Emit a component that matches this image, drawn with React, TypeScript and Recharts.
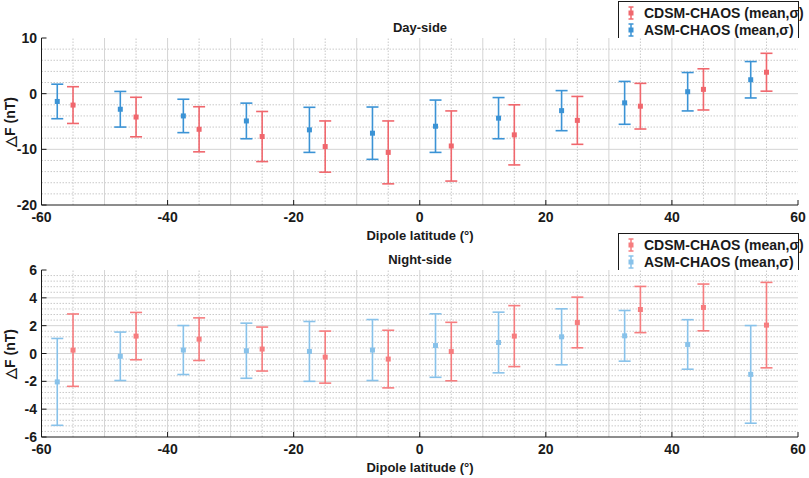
import React from 'react';
import { ScatterChart, Scatter, XAxis, YAxis, ErrorBar, ReferenceLine } from 'recharts';

// dipole latitude bin centres
const asmLat = [-57.5, -47.5, -37.5, -27.5, -17.5, -7.5, 2.5, 12.5, 22.5, 32.5, 42.5, 52.5];
const cdsmLat = [-55, -45, -35, -25, -15, -5, 5, 15, 25, 35, 45, 55];

// day-side mean / sigma (nT)
const dayAsmMean = [-1.4, -2.8, -4.0, -4.9, -6.5, -7.1, -5.85, -4.4, -3.05, -1.65, 0.35, 2.5];
const dayAsmStd = [3.1, 3.2, 3.0, 3.2, 4.05, 4.7, 4.7, 3.7, 3.6, 3.85, 3.45, 3.27];
const dayCdsmMean = [-2.05, -4.2, -6.4, -7.7, -9.5, -10.55, -9.4, -7.4, -4.8, -2.25, 0.77, 3.85];
const dayCdsmStd = [3.3, 3.55, 4.05, 4.5, 4.6, 5.65, 6.3, 5.4, 4.3, 4.1, 3.7, 3.4];

// night-side mean / sigma (nT)
const nightAsmMean = [-2.04, -0.2, 0.25, 0.2, 0.15, 0.25, 0.57, 0.79, 1.2, 1.27, 0.65, -1.5];
const nightAsmStd = [3.12, 1.74, 1.76, 1.98, 2.15, 2.19, 2.28, 2.18, 2.01, 1.82, 1.78, 3.51];
const nightCdsmMean = [0.24, 1.25, 1.03, 0.32, -0.26, -0.4, 0.14, 1.25, 2.23, 3.16, 3.31, 2.04];
const nightCdsmStd = [2.6, 1.7, 1.53, 1.58, 1.87, 2.07, 2.1, 2.19, 1.82, 1.66, 1.68, 3.07];

// ticks and grid
const xTicks = [-60, -40, -20, 0, 20, 40, 60];
const xGridMajor = [-50, -40, -30, -20, -10, 0, 10, 20, 30, 40, 50];
const xGridMinor = [-55, -45, -35, -25, -15, -5, 5, 15, 25, 35, 45, 55];
const dayYTicks = [-20, -10, 0, 10];
const dayYGrid = [-18, -16, -14, -12, -10, -8, -6, -4, -2, 0, 2, 4, 6, 8];
const nightYTicks = [-6, -4, -2, 0, 2, 4, 6];
const nightYGrid = [
  -5.6, -5.2, -4.8, -4.4, -4, -3.6, -3.2, -2.8, -2.4, -2, -1.6, -1.2, -0.8, -0.4, 0,
  0.4, 0.8, 1.2, 1.6, 2, 2.4, 2.8, 3.2, 3.6, 4, 4.4, 4.8, 5.2, 5.6,
];

const FONT = '"Liberation Sans", Arial, sans-serif';
const INK = '#1a1a1a';

const zip = (lat: number[], mean: number[], sd: number[]) =>
  lat.map((x, i) => ({ lat: x, mean: mean[i], sd: sd[i] }));

const square = (color: string) => (p: any) => (
  <rect x={p.cx - 2.5} y={p.cy - 2.5} width={5} height={5} fill={color} />
);

// tick labels drawn from the axis' own tick positions
const XTick = (p: any) => (
  <text x={p.x} y={p.y + 22} textAnchor="middle" fontFamily={FONT} fontSize={14}
    fontWeight={700} fill={INK}>{p.payload.value}</text>
);
const YTick = (p: any) => (
  <text x={p.x + 0.5} y={p.y + 5} textAnchor="end" fontFamily={FONT} fontSize={14}
    fontWeight={700} fill={INK}>{p.payload.value}</text>
);

function LegendIcon({ color }: { color: string }) {
  return (
    <svg width={10} height={14} style={{ display: 'block' }}>
      <line x1={5} y1={1} x2={5} y2={13} stroke={color} strokeWidth={1.5} />
      <line x1={2.5} y1={1} x2={7.5} y2={1} stroke={color} strokeWidth={1.5} />
      <line x1={2.5} y1={13} x2={7.5} y2={13} stroke={color} strokeWidth={1.5} />
      <rect x={2.5} y={4.5} width={5} height={5} fill={color} />
    </svg>
  );
}

type PanelProps = {
  top: number;
  title: string;
  yDomain: [number, number];
  yTicks: number[];
  yGrid: number[];
  yMajor: number[];
  asm: { lat: number; mean: number; sd: number }[];
  cdsm: { lat: number; mean: number; sd: number }[];
  asmColor: string;
  cdsmColor: string;
};

function Panel(p: PanelProps) {
  const W = 809;
  const H = 246;
  return (
    <div style={{ position: 'absolute', left: 0, top: p.top, width: W, height: H }}>
      <ScatterChart width={W} height={H} margin={{ top: 38, right: 11, bottom: 11, left: 0 }}>
        <XAxis
          dataKey="lat" type="number" domain={[-60, 60]} ticks={xTicks}
          allowDataOverflow height={30} tickSize={-5} tickMargin={0}
          axisLine={{ stroke: INK }} tickLine={{ stroke: INK }} tick={<XTick />}
        />
        <XAxis
          xAxisId="t" orientation="top" type="number" domain={[-60, 60]} ticks={xTicks}
          height={0} tickSize={-5} tick={false}
          axisLine={{ stroke: INK }} tickLine={{ stroke: INK }}
        />
        <YAxis
          dataKey="mean" type="number" domain={p.yDomain} ticks={p.yTicks}
          allowDataOverflow width={41.5} tickSize={-5} tickMargin={10}
          axisLine={{ stroke: INK }} tickLine={{ stroke: INK }} tick={<YTick />}
        />
        <YAxis
          yAxisId="r" orientation="right" type="number" domain={p.yDomain} ticks={p.yTicks}
          width={0} tickSize={-5} tick={false}
          axisLine={{ stroke: INK }} tickLine={{ stroke: INK }}
        />
        {p.yGrid.map(v => (
          <ReferenceLine key={'h' + v} y={v}
            stroke={p.yMajor.includes(v) ? '#d4d4d4' : '#c9c9c9'}
            strokeDasharray={p.yMajor.includes(v) ? undefined : '1.5 1.5'} strokeWidth={1} />
        ))}
        {xGridMajor.map(v => (
          <ReferenceLine key={'vM' + v} x={v} stroke="#d4d4d4" strokeWidth={1} />
        ))}
        {xGridMinor.map(v => (
          <ReferenceLine key={'vm' + v} x={v} stroke="#c9c9c9" strokeDasharray="1.5 1.5" strokeWidth={1} />
        ))}
        <Scatter name="ASM-CHAOS" data={p.asm} fill={p.asmColor} shape={square(p.asmColor)} isAnimationActive={false}>
          <ErrorBar dataKey="sd" direction="y" width={6} stroke={p.asmColor} strokeWidth={1.6} isAnimationActive={false} />
        </Scatter>
        <Scatter name="CDSM-CHAOS" data={p.cdsm} fill={p.cdsmColor} shape={square(p.cdsmColor)} isAnimationActive={false}>
          <ErrorBar dataKey="sd" direction="y" width={6} stroke={p.cdsmColor} strokeWidth={1.6} isAnimationActive={false} />
        </Scatter>
      </ScatterChart>

      <div style={{ position: 'absolute', left: 370, width: 100, top: 20, textAlign: 'center',
        font: `700 13px ${FONT}`, color: INK }}>{p.title}</div>

      <div style={{ position: 'absolute', left: 335, width: 170, top: 228, textAlign: 'center',
        font: `700 13px ${FONT}`, color: INK }}>Dipole latitude (°)</div>

      <div style={{ position: 'absolute', left: 10, top: 122, width: 0, height: 0 }}>
        <div style={{ position: 'absolute', transform: 'translate(-50%, -50%) rotate(-90deg)',
          whiteSpace: 'nowrap', font: `700 14px ${FONT}`, color: INK }}>△F (nT)</div>
      </div>

      <div style={{ position: 'absolute', left: 618, top: 1, width: 179, height: 36,
        border: `1px solid ${INK}`, borderBottom: 'none', background: '#fff',
        font: `700 14px ${FONT}`, color: INK, whiteSpace: 'nowrap' }}>
        <div style={{ position: 'absolute', left: 7, top: 3, display: 'flex', alignItems: 'center', gap: 8 }}>
          <LegendIcon color={p.cdsmColor} /><span>CDSM-CHAOS (mean,σ)</span>
        </div>
        <div style={{ position: 'absolute', left: 7, top: 20, display: 'flex', alignItems: 'center', gap: 8 }}>
          <LegendIcon color={p.asmColor} /><span>ASM-CHAOS (mean,σ)</span>
        </div>
      </div>
    </div>
  );
}

export default function App() {
  return (
    <div style={{ position: 'relative', width: 809, height: 478, background: '#fff' }}>
      <style>{'body{margin:0}'}</style>
      <Panel
        top={0} title="Day-side" yDomain={[-20, 10]} yTicks={dayYTicks}
        yGrid={dayYGrid} yMajor={[-10, 0]}
        asm={zip(asmLat, dayAsmMean, dayAsmStd)} cdsm={zip(cdsmLat, dayCdsmMean, dayCdsmStd)}
        asmColor="#3b93d5" cdsmColor="#f0676d"
      />
      <Panel
        top={232} title="Night-side" yDomain={[-6, 6]} yTicks={nightYTicks}
        yGrid={nightYGrid} yMajor={[-4, -2, 0, 2, 4]}
        asm={zip(asmLat, nightAsmMean, nightAsmStd)} cdsm={zip(cdsmLat, nightCdsmMean, nightCdsmStd)}
        asmColor="#88c2ea" cdsmColor="#f67d7f"
      />
    </div>
  );
}
